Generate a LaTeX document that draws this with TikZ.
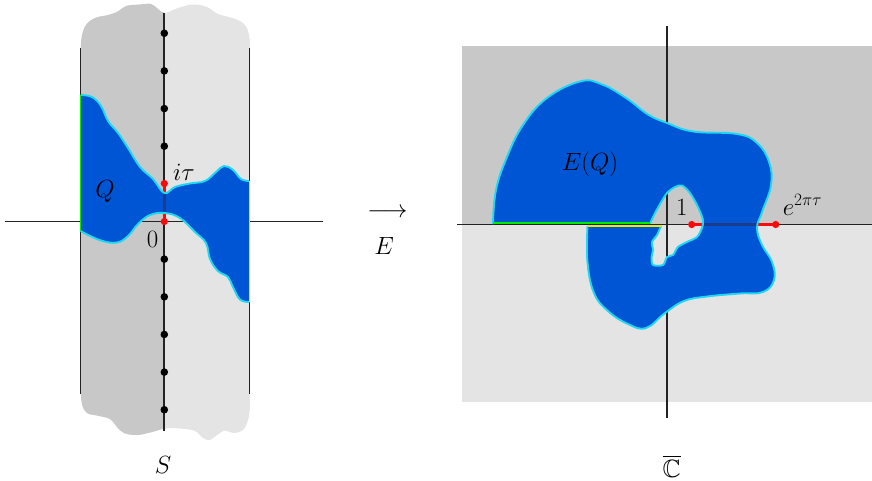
\documentclass[tikz,border=0pt]{standalone}
\usepackage{amssymb}
\definecolor{dgray}{RGB}{200,200,200}
\definecolor{lgray}{RGB}{228,228,228}
\definecolor{qblue}{RGB}{0,85,212}
\definecolor{qcyan}{RGB}{30,215,240}
\definecolor{qgreen}{RGB}{0,235,0}
\definecolor{qyellow}{RGB}{235,235,0}
\definecolor{qred}{RGB}{250,10,10}
\definecolor{qnavy}{RGB}{25,60,140}
\definecolor{axcol}{RGB}{35,35,35}
\newcommand\StripPath{plot[smooth,tension=.6] coordinates {(80.5,60) (81.5,38) (86,25) (95,18) (108,15) (118,11.5) (126,6) (140,4.5) (151,4) (158,9) (165,13) (178,8) (193,4.5) (207,7) (218,14) (234,18.5) (245,25) (249.5,38) (250,60)} -- plot[smooth,tension=.6] coordinates {(250,385) (250,406) (248,420) (243,430) (233,433) (225,430.5) (217,435) (210,440) (203,438) (195,431) (180,428.5) (165,428.5) (152,432) (137,435) (124,433) (117,427) (110,419) (97,415.5) (87,413) (82,404) (80.5,385)} -- cycle}
\newcommand\QTop{plot[smooth,tension=.65] coordinates {(80.5,95) (92,97) (101,106) (108,121) (118,133) (128,148) (140,167) (153,179) (164.3,193) (175,187) (190,183.5) (205,181) (216,172) (224,166) (233,170) (241,179) (249.3,181)}}
\newcommand\QBotJ{-- plot[smooth,tension=.65] coordinates {(249.3,302) (240,299.5) (233,287) (228,277) (218,271) (210,259) (206,243) (195,232) (180,218) (165,213) (150,215) (138,224) (128,236) (117,242.5) (101,240.5) (80.5,231)}}
\newcommand\EOut{plot[smooth,tension=.7] coordinates {(493,224) (496,190) (507,157) (523,125) (547,98) (580,81.5) (601,84) (626,98) (648,114.5) (667,123) (693,131.5) (737,134) (757,143) (769,162) (771,185) (762,212) (757,228) (762,245) (772,262) (774,280) (763,292) (740,293.5) (707,296.5) (684,301) (665,313) (646,328) (628,324) (608,311) (594,293) (587.5,262) (587.5,226)}}
\newcommand\EHoleJ{-- plot[smooth,tension=.5] coordinates {(661,226) (657,235) (652,242) (653,250) (651.5,258) (653,265) (663,265) (667,257) (673,255) (678,247) (687,242) (697,237) (702,228) (703,220) (698,207) (690,193) (682,185.5) (675,187) (667,193) (660,204) (654,215) (650,223.5)}}
\begin{document}
\begin{tikzpicture}[x=1pt,y=-1pt,
  lab/.style={font=\fontsize{25}{30}\selectfont, inner sep=0pt, anchor=base},
  ax/.style={draw=axcol, line width=1.8pt},
  side/.style={draw=axcol, line width=1.6pt},
  rim/.style={draw=qcyan, line width=1.9pt, line join=round},
  redseg/.style={draw=qred, line width=3pt},
  navyseg/.style={draw=qnavy, line width=3pt},
  dot/.style={fill=black},
  rdot/.style={fill=qred}]
\useasboundingbox (0,0) rectangle (872,480);
% ---------- left panel ----------
\fill[lgray] \StripPath;
\begin{scope}
  \clip (0,0) rectangle (164.3,480);
  \fill[dgray] \StripPath;
\end{scope}
\draw[ax] (5,221.5) -- (323,221.5);
\draw[ax] (164.3,13) -- (164.3,431);
\draw[side] (80.5,48) -- (80.5,394);
\draw[side] (249.3,48) -- (249.3,394);
\foreach \k in {-5,-4,-3,-2,1,2,3,4,5}
  \fill[dot] (164.3,{221.5+37.65*\k}) circle (3.8pt);
\draw[redseg] (164.3,183.5) -- (164.3,221.5);
\fill[rdot] (164.3,183.5) circle (3.6pt);
\fill[rdot] (164.3,221.5) circle (3.6pt);
\fill[qblue] \QTop \QBotJ -- cycle;
\begin{scope}
  \clip \QTop \QBotJ -- cycle;
  \draw[navyseg] (164.3,183.5) -- (164.3,221.5);
\end{scope}
\draw[rim] \QTop;
\draw[rim] (249.3,302) \QBotJ;
\draw[qgreen, line width=1.6pt] (80.5,95) -- (80.5,231);
\draw[qyellow, line width=1.6pt] (249.3,181) -- (249.3,302);
\node[lab] (Q) at (105,197) {$Q$};
\node[lab] (itau) at (184,180) {$i\tau$};
\node[lab] (zero) at (152.5,247) {$0$};
\node[lab] (S) at (163,473) {$S$};
% ---------- arrow ----------
\node[lab] (arr) at (387.5,217) {$\longrightarrow$};
\node[lab] (E) at (384,254) {$E$};
% ---------- right panel ----------
\fill[dgray] (461.7,46) rectangle (872,224.5);
\fill[lgray] (461.7,224.5) rectangle (872,401.7);
\draw[ax] (457,224.5) -- (872,224.5);
\draw[ax] (666.7,26) -- (666.7,418);
\draw[redseg] (691.7,224.5) -- (775.7,224.5);
\fill[rdot] (691.7,224.5) circle (3.6pt);
\fill[rdot] (775.7,224.5) circle (3.6pt);
\fill[qblue] \EOut \EHoleJ -- cycle;
\begin{scope}
  \clip \EOut \EHoleJ -- cycle;
  \draw[navyseg] (691.7,224.5) -- (775.7,224.5);
\end{scope}
\draw[rim] \EOut;
\draw[rim] (661,226) \EHoleJ;
\draw[qgreen, line width=1.8pt] (493,223.3) -- (650,223.3);
\draw[qyellow, line width=1.8pt] (587.5,225.8) -- (661,225.8);
\node[lab] (EQ) at (590,170) {$E(Q)$};
\node[lab] (one) at (681.7,215) {$1$};
\node[lab] (e2pt) at (802.5,215) {$e^{2\pi\tau}$};
\node[lab] (Cbar) at (671.7,477) {$\overline{\mathbb{C}}$};
\end{tikzpicture}
\end{document}
